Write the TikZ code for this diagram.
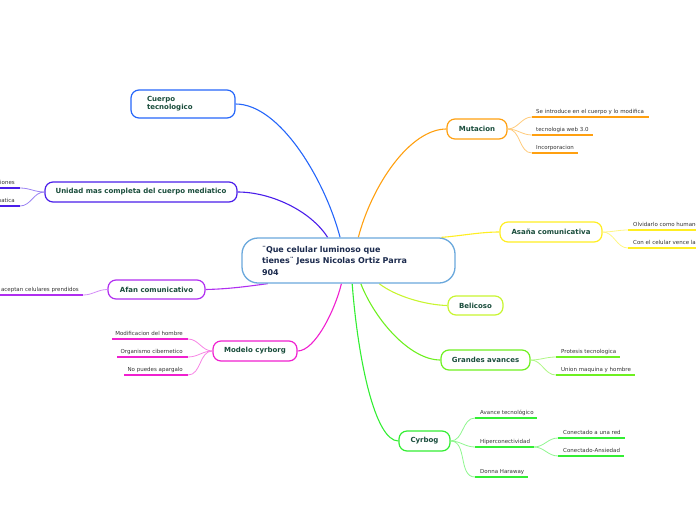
\documentclass[tikz,border=0pt]{standalone}
\usepackage{fontspec}
\setmainfont{DejaVu Sans}
\definecolor{cCenter}{HTML}{6AA8DC}
\definecolor{cNavy}{HTML}{1C2B4E}
\definecolor{tcol}{HTML}{1A4D3C}
\definecolor{labcol}{HTML}{333333}
\definecolor{cBlue}{HTML}{2566FA}
\definecolor{cIndigo}{HTML}{4A1EEA}
\definecolor{cPurple}{HTML}{B02EF0}
\definecolor{cMagenta}{HTML}{F020D0}
\definecolor{cOrange}{HTML}{FFA010}
\definecolor{cYellow}{HTML}{FFEE22}
\definecolor{cLime}{HTML}{C8F530}
\definecolor{cGreen}{HTML}{6EF020}
\definecolor{cGreenB}{HTML}{33EE33}
\pgfdeclarelayer{background}
\pgfsetlayers{background,main}
\tikzset{
  topic/.style={draw=#1, line width=1.2pt, rounded corners=8pt, fill=white, text=tcol,
    font=\bfseries\fontsize{7}{8.2}\selectfont, minimum height=20pt, inner sep=0pt},
  conn/.style={draw=#1, line width=1.1pt},
  subconn/.style={draw=#1!55, line width=0.8pt},
  ul/.style={draw=#1, line width=1.6pt},
  labw/.style={font=\fontsize{5.5}{6.5}\selectfont, text=labcol, inner sep=0pt, anchor=base west},
  labe/.style={font=\fontsize{5.5}{6.5}\selectfont, text=labcol, inner sep=0pt, anchor=base east}
}
\begin{document}
\begin{tikzpicture}[x=1pt,y=-1pt]
\useasboundingbox (0,0) rectangle (696,520);
\clip (0,0) rectangle (696,520);

% coordinates at underline ends
\coordinate (u1a) at (0,188);   \coordinate (u1) at (20,188);
\coordinate (u2a) at (0,206);   \coordinate (u2) at (20,206);
\coordinate (a1a) at (0,295);   \coordinate (a1) at (83,295);
\coordinate (md1a) at (112,339); \coordinate (md1) at (188,339);
\coordinate (md2a) at (117,357); \coordinate (md2) at (188,357);
\coordinate (md3a) at (124,375); \coordinate (md3) at (188,375);
\coordinate (m1) at (532,117); \coordinate (m1b) at (649,117);
\coordinate (m2) at (532,135); \coordinate (m2b) at (593,135);
\coordinate (m3) at (532,153); \coordinate (m3b) at (578,153);
\coordinate (as1) at (628,230); \coordinate (as1b) at (700,230);
\coordinate (as2) at (628,248); \coordinate (as2b) at (700,248);
\coordinate (g1) at (556,357); \coordinate (g1b) at (620,357);
\coordinate (g2) at (556,375); \coordinate (g2b) at (635,375);
\coordinate (cy1) at (475,418); \coordinate (cy1b) at (537,418);
\coordinate (cy2) at (475,447); \coordinate (cy2b) at (534,447);
\coordinate (cy3) at (475,477); \coordinate (cy3b) at (528,477);
\coordinate (h1) at (558,438); \coordinate (h1b) at (625,438);
\coordinate (h2) at (558,456); \coordinate (h2b) at (624,456);

% central node
\node[draw=cCenter, line width=1.3pt, rounded corners=16pt, fill=white,
  minimum width=213pt, minimum height=45pt, text width=173pt, align=left,
  font=\bfseries\fontsize{8}{11.5}\selectfont, text=cNavy, inner sep=0pt]
  (c) at (348.5,260.5) {¨Que celular luminoso que\\tienes¨ Jesus Nicolas Ortiz Parra\\904};

% topic nodes
\node[topic=cBlue, minimum width=104pt, minimum height=28pt, text width=72pt, align=left] (cuerpo) at (183,104) {Cuerpo\\tecnologico};
\node[topic=cIndigo, minimum width=192pt] (unidad) at (141,192) {Unidad mas completa del cuerpo mediatico};
\node[topic=cPurple, minimum width=97pt, minimum height=19pt] (afan) at (156.5,289.5) {Afan comunicativo};
\node[topic=cMagenta, minimum width=84pt] (modelo) at (255,351) {Modelo cyrborg};
\node[topic=cOrange, minimum width=60pt] (mut) at (477,129) {Mutacion};
\node[topic=cYellow, minimum width=102pt] (asana) at (551,232) {Asaña comunicativa};
\node[topic=cLime, minimum width=55pt, minimum height=19pt] (beli) at (475.5,305.5) {Belicoso};
\node[topic=cGreen, minimum width=89pt] (grandes) at (485.5,360) {Grandes avances};
\node[topic=cGreenB, minimum width=51pt] (cyr) at (424.5,441) {Cyrbog};

% main connectors
\begin{pgfonlayer}{background}
\draw[conn=cBlue] (c.110.7) .. controls (325,180) and (280,104) .. (cuerpo.east);
\draw[conn=cIndigo] (c.132.3) .. controls (310,210) and (270,192) .. (unidad.east);
\draw[conn=cPurple] (c.196.4) .. controls (250,286) and (230,289) .. (afan.east);
\draw[conn=cMagenta] (c.253.9) .. controls (335,310) and (315,351) .. (modelo.east);
\draw[conn=cOrange] (c.67.1) .. controls (372,185) and (410,129) .. (mut.west);
\draw[conn=cYellow] (c.14.9) .. controls (460,236) and (480,232) .. (asana.west);
\draw[conn=cLime] (c.-37.3) .. controls (395,296) and (425,305) .. (beli.west);
\draw[conn=cGreen] (c.-62.9) .. controls (375,320) and (410,360) .. (grandes.west);
\draw[conn=cGreenB] (c.-81.2) .. controls (358,360) and (375,441) .. (cyr.west);
\end{pgfonlayer}

% sub connectors
\draw[subconn=cIndigo] (unidad.west) to[out=180,in=0] (u1);
\draw[subconn=cIndigo] (unidad.west) to[out=180,in=0] (u2);
\draw[subconn=cPurple] (afan.west) to[out=180,in=0] (a1);
\foreach \t in {md1,md2,md3} \draw[subconn=cMagenta] (modelo.west) to[out=180,in=0] (\t);
\foreach \t in {m1,m2,m3} \draw[subconn=cOrange] (mut.east) to[out=0,in=180] (\t);
\foreach \t in {as1,as2} \draw[subconn=cYellow] (asana.east) to[out=0,in=180] (\t);
\foreach \t in {g1,g2} \draw[subconn=cGreen] (grandes.east) to[out=0,in=180] (\t);
\foreach \t in {cy1,cy2,cy3} \draw[subconn=cGreenB] (cyr.east) to[out=0,in=180] (\t);
\foreach \t in {h1,h2} \draw[subconn=cGreenB] (cy2b) to[out=0,in=180] (\t);

% underlines
\draw[ul=cIndigo] (u1a) -- (u1);
\draw[ul=cIndigo] (u2a) -- (u2);
\draw[ul=cPurple] (a1a) -- (a1);
\draw[ul=cMagenta] (md1a) -- (md1);
\draw[ul=cMagenta] (md2a) -- (md2);
\draw[ul=cMagenta] (md3a) -- (md3);
\draw[ul=cOrange] (m1) -- (m1b);
\draw[ul=cOrange] (m2) -- (m2b);
\draw[ul=cOrange] (m3) -- (m3b);
\draw[ul=cYellow] (as1) -- (as1b);
\draw[ul=cYellow] (as2) -- (as2b);
\draw[ul=cGreen] (g1) -- (g1b);
\draw[ul=cGreen] (g2) -- (g2b);
\draw[ul=cGreenB] (cy1) -- (cy1b);
\draw[ul=cGreenB] (cy2) -- (cy2b);
\draw[ul=cGreenB] (cy3) -- (cy3b);
\draw[ul=cGreenB] (h1) -- (h1b);
\draw[ul=cGreenB] (h2) -- (h2b);

% labels
\node[labe] (lu1) at (15,184) {iones};
\node[labe] (lu2) at (15,202) {matica};
\node[labe] (la1) at (79,291) {aceptan celulares prendidos};
\node[labe] (lmd1) at (183,335) {Modificacion del hombre};
\node[labe] (lmd2) at (183,353) {Organismo cibernetico};
\node[labe] (lmd3) at (183,371) {No puedes apargalo};
\node[labw] (lm1) at (536,113) {Se introduce en el cuerpo y lo modifica};
\node[labw] (lm2) at (536,131) {tecnologia web 3.0};
\node[labw] (lm3) at (536,149) {Incorporacion};
\node[labw] (las1) at (633,226) {Olvidarlo como humano};
\node[labw] (las2) at (633,244) {Con el celular vence la};
\node[labw] (lg1) at (561,353) {Protesis tecnologica};
\node[labw] (lg2) at (561,371) {Union maquina y hombre};
\node[labw] (lcy1) at (480,414) {Avance tecnológico};
\node[labw] (lcy2) at (480,443) {Hiperconectividad};
\node[labw] (lcy3) at (480,473) {Donna Haraway};
\node[labw] (lh1) at (563,434) {Conectado a una red};
\node[labw] (lh2) at (563,452) {Conectado-Ansiedad};
\end{tikzpicture}
\end{document}
